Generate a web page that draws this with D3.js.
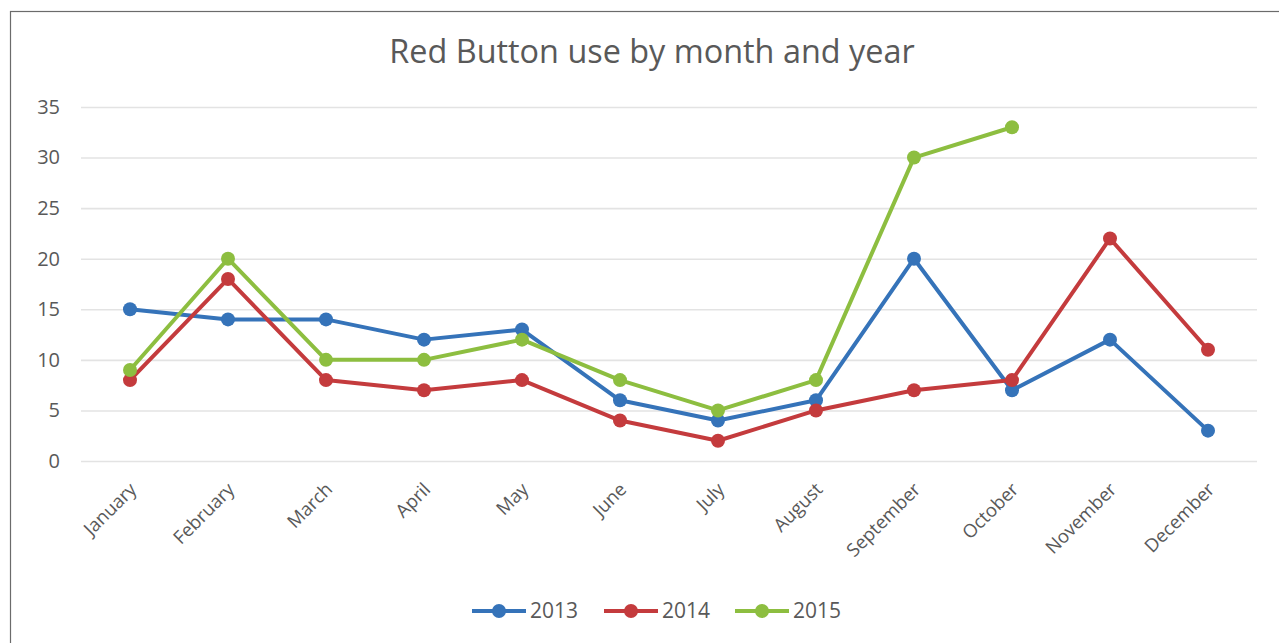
<!DOCTYPE html>
<html>
<head>
<meta charset="utf-8">
<script src="https://cdn.jsdelivr.net/npm/d3@7"></script>
<style>
  html, body { margin: 0; padding: 0; background: #fff; }
  svg { display: block; font-family: "Open Sans", "Noto Sans", sans-serif; }
</style>
</head>
<body>
<svg id="chart" width="1279" height="643"></svg>
<script>
// Monthly Red Button usage counts
const months = ["January", "February", "March", "April", "May", "June",
                "July", "August", "September", "October", "November", "December"];
const years = ["2013", "2014", "2015"];
const values2013 = [15, 14, 14, 12, 13, 6, 4, 6, 20, 7, 12, 3];
const values2014 = [8, 18, 8, 7, 8, 4, 2, 5, 7, 8, 22, 11];
const values2015 = [9, 20, 10, 10, 12, 8, 5, 8, 30, 33, null, null];
const yTicks = [0, 5, 10, 15, 20, 25, 30, 35];
const colors = ["#3573b9", "#c43b3d", "#8dbe40"];

const series = [values2013, values2014, values2015].map((vals, i) => ({
  name: years[i],
  color: colors[i],
  points: vals.map((v, j) => ({ month: months[j], value: v })).filter(d => d.value !== null)
}));

const svg = d3.select("#chart");
const textColor = "#595959";

// Frame
svg.append("rect")
  .attr("x", 10.5).attr("y", 11.5)
  .attr("width", 1300).attr("height", 700)
  .attr("fill", "none").attr("stroke", "#6b6b6b").attr("stroke-width", 1.2);

const x = d3.scaleBand().domain(months).range([81, 1257]);
const y = d3.scaleLinear().domain([0, 35]).range([461, 107]);
const cx = m => x(m) + x.bandwidth() / 2;

// Title
svg.append("text")
  .attr("x", 652).attr("y", 63)
  .attr("text-anchor", "middle")
  .attr("fill", textColor)
  .attr("font-size", 32.4)
  .text("Red Button use by month and year");

// Horizontal gridlines + y labels
const yAxis = d3.axisLeft(y).tickValues(yTicks).tickSize(-(1257 - 81)).tickPadding(21);
const gy = svg.append("g").attr("transform", "translate(81,0)").call(yAxis);
gy.select(".domain").remove();
gy.selectAll(".tick line").attr("stroke", "#e3e3e3").attr("stroke-width", 1.6);
gy.selectAll(".tick text")
  .attr("fill", textColor)
  .attr("font-size", 20)
  .attr("font-family", "'Open Sans', 'Noto Sans', sans-serif");

// Month labels
const xAxis = d3.axisBottom(x).tickSize(0).tickPadding(0);
const gx = svg.append("g").attr("transform", "translate(0,470)").call(xAxis);
gx.select(".domain").remove();
gx.selectAll(".tick text")
  .attr("fill", textColor)
  .attr("font-size", 18.5)
  .attr("font-family", "'Open Sans', 'Noto Sans', sans-serif")
  .attr("text-anchor", "end")
  .attr("dy", "0.35em")
  .attr("transform", "translate(3,16) rotate(-45)");

// Lines and markers
const line = d3.line().x(d => cx(d.month)).y(d => y(d.value));
series.forEach(s => {
  const g = svg.append("g");
  g.append("path")
    .datum(s.points)
    .attr("d", line)
    .attr("fill", "none")
    .attr("stroke", s.color)
    .attr("stroke-width", 4)
    .attr("stroke-linejoin", "round");
  g.selectAll("circle")
    .data(s.points)
    .join("circle")
    .attr("cx", d => cx(d.month))
    .attr("cy", d => y(d.value))
    .attr("r", 7)
    .attr("fill", s.color);
});

// Legend
const legendX = [472, 604, 735];
series.forEach((s, i) => {
  const g = svg.append("g").attr("transform", `translate(${legendX[i]},611)`);
  g.append("line").attr("x1", 0).attr("x2", 54)
    .attr("stroke", s.color).attr("stroke-width", 4);
  g.append("circle").attr("cx", 27).attr("r", 7).attr("fill", s.color);
  g.append("text").attr("x", 58).attr("dy", "0.35em")
    .attr("fill", textColor).attr("font-size", 21)
    .text(s.name);
});
</script>
</body>
</html>
